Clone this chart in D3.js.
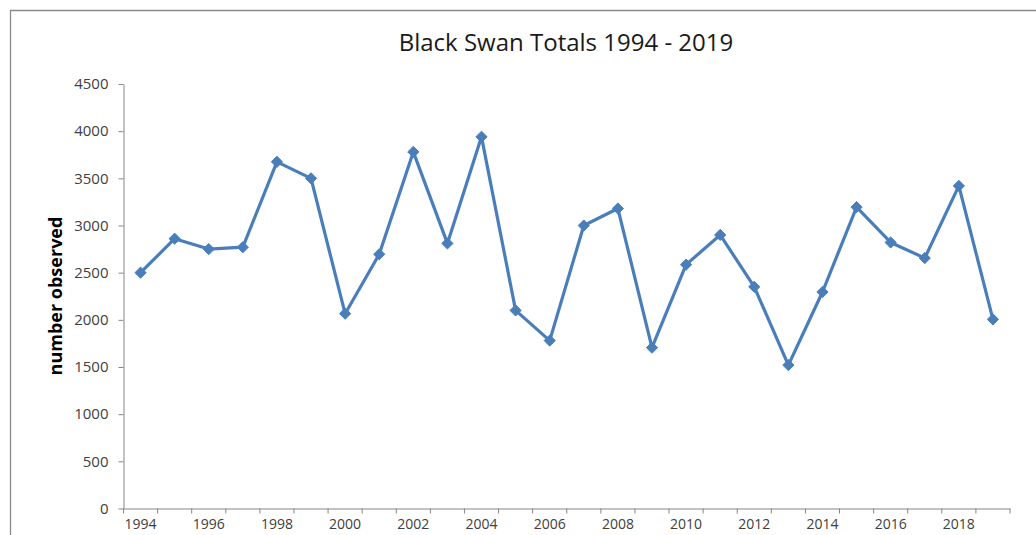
<!DOCTYPE html>
<html><head><meta charset="utf-8">
<script src="https://cdn.jsdelivr.net/npm/d3@7"></script>
<style>
html,body{margin:0;padding:0;background:#fff;}
svg{display:block;}
</style></head>
<body>
<svg id="c" width="1036" height="535"></svg>
<script>
const years = [1994,1995,1996,1997,1998,1999,2000,2001,2002,2003,2004,2005,2006,2007,2008,2009,2010,2011,2012,2013,2014,2015,2016,2017,2018,2019];
const totals = [2500,2860,2750,2770,3675,3500,2065,2695,3780,2810,3940,2100,1780,3000,3180,1705,2585,2900,2350,1520,2295,3195,2820,2655,3420,2005];
const yTicks = [0,500,1000,1500,2000,2500,3000,3500,4000,4500];
const xLabelYears = [1994,1996,1998,2000,2002,2004,2006,2008,2010,2012,2014,2016,2018];
const title = "Black Swan Totals 1994 - 2019";
const yTitle = "number observed";

const svg = d3.select("#c");
const font = "'Open Sans', 'Noto Sans', sans-serif";
const axisColor = "#868686";
const textColor = "#404040";
const lineColor = "#4A7EBB";

// chart frame
svg.append("path").attr("d","M10.5,536 V10.5 H1037").attr("fill","none").attr("stroke","#8c8c8c").attr("stroke-width",1.3);

const x = d3.scaleBand().domain(years).range([123.5, 1010]).padding(0);
const y = d3.scaleLinear().domain([0,4500]).range([508.5, 84]);

// y axis
const yAxis = svg.append("g").attr("transform","translate(123.5,0)")
  .call(d3.axisLeft(y).tickValues(yTicks).tickFormat(d3.format("d")).tickSize(5).tickPadding(10).tickSizeOuter(0));
yAxis.select(".domain").attr("stroke",axisColor);
yAxis.selectAll(".tick line").attr("stroke",axisColor);
yAxis.selectAll(".tick text").attr("fill",textColor).style("font-family",font).style("font-size","15px");

// x axis: labels at band centers
const xAxis = svg.append("g").attr("transform","translate(0,508.5)")
  .call(d3.axisBottom(x).tickValues(xLabelYears).tickFormat(d3.format("d")).tickSize(0).tickPadding(11).tickSizeOuter(0));
xAxis.select(".domain").attr("stroke",axisColor);
xAxis.selectAll(".tick text").attr("fill",textColor).style("font-family",font).style("font-size","14px");
// x ticks at band boundaries
const bounds = years.map(d => x(d)).concat([x.range()[1]]);
svg.append("g").selectAll("line").data(bounds).join("line")
  .attr("x1", d => d).attr("x2", d => d).attr("y1", 508.5).attr("y2", 513.5)
  .attr("stroke", axisColor);

// line
const pts = years.map((yr,i) => [x(yr)+x.bandwidth()/2, y(totals[i])]);
svg.append("path").datum(pts).attr("d", d3.line())
  .attr("fill","none").attr("stroke",lineColor).attr("stroke-width",3.2).attr("stroke-linejoin","round");
// markers (diamonds)
svg.append("g").selectAll("path").data(pts).join("path")
  .attr("transform", d => `translate(${d[0]},${d[1]})`)
  .attr("d", d3.symbol().type(d3.symbolDiamond2).size(80))
  .attr("fill", lineColor).attr("stroke", lineColor).attr("stroke-width",1);

// title
svg.append("text").attr("x",566).attr("y",51).attr("text-anchor","middle")
  .style("font-family",font).style("font-size","24px").attr("fill","#1a1a1a").text(title);

// y title
svg.append("text").attr("transform","translate(62,296) rotate(-90)").attr("text-anchor","middle")
  .style("font-family",font).style("font-size","18px").style("font-weight","bold").attr("fill","#000").text(yTitle);
</script>
</body></html>
